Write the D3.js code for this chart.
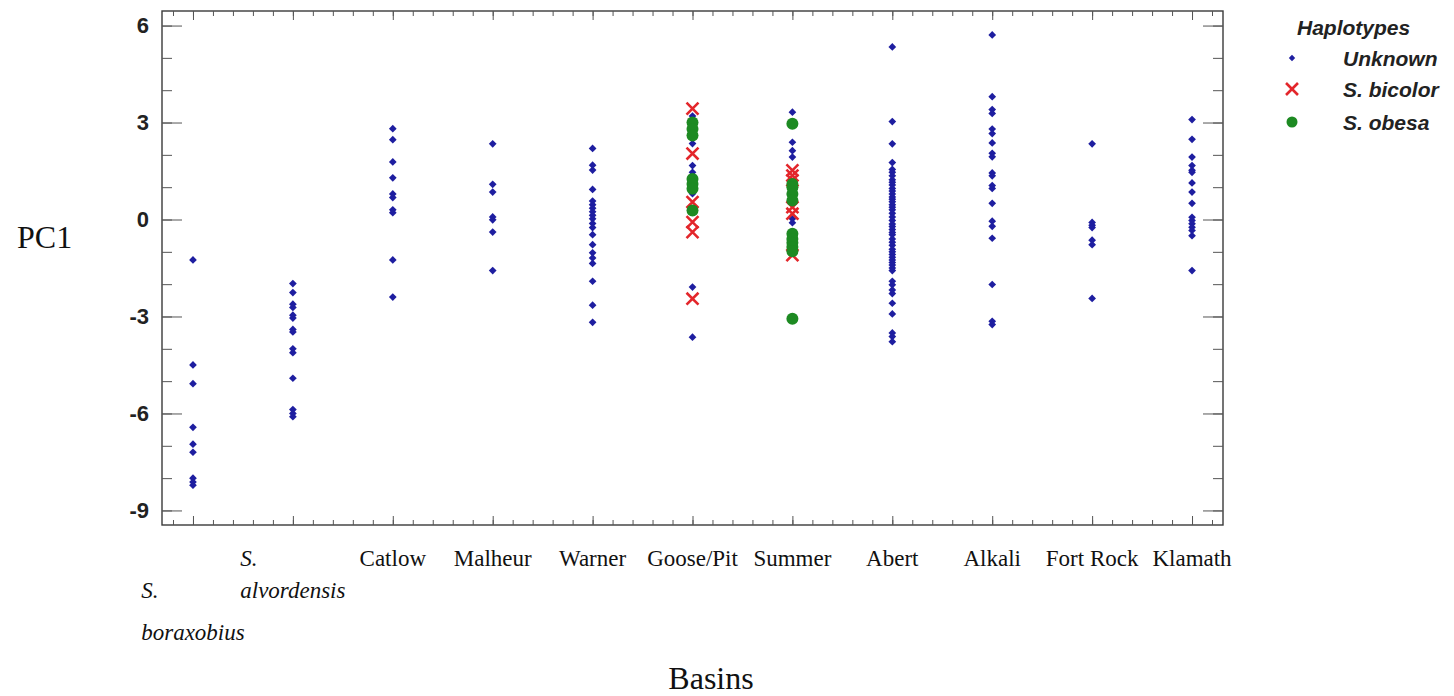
<html>
<head>
<meta charset="utf-8">
<script src="https://d3js.org/d3.v7.min.js"></script>
<style>
body {margin: 0; background: white;}
.ylab text {font-family: "Liberation Sans", Arial, sans-serif; font-weight: bold; font-size: 22px; fill: #222;}
.tick line {stroke: #555;}
</style>
</head>
<body>
<svg width="1454" height="696"></svg>
<script>

// basins along the x axis
var basins = ["S. boraxobius", "S. alvordensis", "Catlow", "Malheur", "Warner", "Goose/Pit",
              "Summer", "Abert", "Alkali", "Fort Rock", "Klamath"];

// PC1 values, haplotype unknown (one list per basin, same order as basins)
var unknownPC1 = [
  [-1.25, -4.5, -5.08, -6.43, -6.95, -7.2, -8.0, -8.12, -8.22],
  [-1.98, -2.26, -2.62, -2.72, -2.96, -3.05, -3.4, -3.48, -4.0, -4.12, -4.91, -5.88, -6.0, -6.1],
  [2.81, 2.47, 1.78, 1.29, 0.79, 0.68, 0.3, 0.21, -1.25, -2.4],
  [2.34, 1.09, 0.85, 0.08, -0.01, -0.39, -1.58],
  [2.2, 1.68, 1.53, 0.93, 0.57, 0.46, 0.35, 0.24, 0.13, 0.02, -0.12, -0.25, -0.47, -0.78, -1.03, -1.19, -1.36, -1.91, -2.65, -3.18],
  [3.2, 2.35, 1.67, 1.46, 0.8, -2.09, -3.64],
  [3.32, 2.39, 2.13, 1.93, 0.02, -0.1],
  [5.34, 3.03, 2.34, 1.76, 1.55, 1.46, 1.35, 1.23, 1.15, 1.07, 0.96, 0.88, 0.79, 0.7, 0.63, 0.55, 0.46, 0.38, 0.3, 0.19,
   0.08, -0.03, -0.14, -0.22, -0.31, -0.4, -0.47, -0.6, -0.7, -0.8, -0.92, -1.0, -1.08, -1.17, -1.25, -1.33, -1.41, -1.5,
   -1.58, -1.91, -2.02, -2.18, -2.29, -2.59, -2.92, -3.51, -3.62, -3.78],
  [5.71, 3.8, 3.4, 3.28, 2.8, 2.66, 2.37, 2.05, 1.94, 1.44, 1.35, 1.05, 0.96, 0.5, -0.05, -0.21, -0.58, -2.01, -3.15, -3.25],
  [2.34, -0.09, -0.18, -0.25, -0.64, -0.78, -2.44],
  [3.09, 2.48, 1.93, 1.67, 1.52, 1.46, 1.13, 0.85, 0.5, 0.07, -0.03, -0.13, -0.24, -0.34, -0.5, -1.58]
];

// PC1 values, S. bicolor haplotype
var bicolorGoosePit = [3.43, 2.04, 0.54, -0.08, -0.39, -2.45];
var bicolorSummer = [1.52, 1.36, 1.21, 0.38, 0.18, -1.1];

// PC1 values, S. obesa haplotype
var obesaGoosePit = [3.0, 2.8, 2.6, 1.25, 1.1, 0.95, 0.28];
var obesaSummer = [2.96, 1.1, 1.0, 0.79, 0.59, -0.44, -0.6, -0.72, -0.85, -0.98, -3.07];

var yTicks = [6, 3, 0, -3, -6, -9];
var yMinor = [6, 5, 4, 3, 2, 1, 0, -1, -2, -3, -4, -5, -6, -7, -8, -9];
var legendTitle = "Haplotypes";
var legendLabels = ["Unknown", "S. bicolor", "S. obesa"];

var plotLeft = 162, plotRight = 1223, plotTop = 11, plotBottom = 525;
var blue = "#1e1ea0", red = "#e3262b", green = "#1d8a22";

var svg = d3.select("svg");

var x = d3.scalePoint().domain(basins).range([plotLeft, plotRight]).padding(0.31);
var y = d3.scaleLinear().domain([-9.45, 6.45]).range([plotBottom, plotTop]);
// index scale for the small ticks between basins
var xi = d3.scaleLinear().domain([0, basins.length - 1]).range([x(basins[0]), x(basins[basins.length - 1])]);
var minorX = d3.range(-7, 5 * (basins.length - 1) + 8).map(function(k) {return k / 5;})
  .filter(function(v) {return xi(v) > plotLeft + 2 && xi(v) < plotRight - 2;});

//frame
svg.append("rect").attr("x", plotLeft).attr("y", plotTop).attr("width", plotRight - plotLeft).attr("height", plotBottom - plotTop)
  .style("fill", "none").style("stroke", "#3a3a3a").style("stroke-width", 1.4);

//left axis
svg.append("g").attr("class", "ylab").attr("transform", "translate(" + plotLeft + ",0)")
  .call(d3.axisLeft(y).tickValues(yTicks).tickSize(-20).tickPadding(13).tickFormat(function(d) {return String(d);}))
  .call(function(g) {g.select(".domain").remove();});
svg.append("g").attr("transform", "translate(" + plotLeft + ",0)")
  .call(d3.axisLeft(y).tickValues(yMinor).tickSize(-10).tickFormat(""))
  .call(function(g) {g.select(".domain").remove();});

//right axis
svg.append("g").attr("transform", "translate(" + plotRight + ",0)")
  .call(d3.axisRight(y).tickValues(yTicks).tickSize(-20).tickFormat(""))
  .call(function(g) {g.select(".domain").remove();});
svg.append("g").attr("transform", "translate(" + plotRight + ",0)")
  .call(d3.axisRight(y).tickValues(yMinor).tickSize(-10).tickFormat(""))
  .call(function(g) {g.select(".domain").remove();});

//bottom and top ticks
[[d3.axisBottom, plotBottom], [d3.axisTop, plotTop]].forEach(function(a) {
  svg.append("g").attr("transform", "translate(0," + a[1] + ")")
    .call(a[0](x).tickSize(-9).tickFormat(""))
    .call(function(g) {g.select(".domain").remove();});
  svg.append("g").attr("transform", "translate(0," + a[1] + ")")
    .call(a[0](xi).tickValues(minorX).tickSize(-5).tickFormat(""))
    .call(function(g) {g.select(".domain").remove();});
});

//basin labels
var rowY = [566, 598, 640];
basins.forEach(function(b, i) {
  var cx = x(b);
  if (b.indexOf("S. ") === 0) {
    var parts = ["S.", b.slice(3)];
    var rows = i === 0 ? [rowY[1], rowY[2]] : [rowY[0], rowY[1]];
    var t = svg.append("g");
    parts.forEach(function(p, j) {
      t.append("text").attr("x", 0).attr("y", rows[j]).text(p)
        .style("font-family", "'Liberation Serif', 'Times New Roman', serif")
        .style("font-style", "italic").style("font-size", "23px").style("fill", "#111");
    });
    var w = t.node().getBBox().width;
    t.attr("transform", "translate(" + (cx - w / 2) + ",0)");
  } else {
    svg.append("text").attr("x", cx).attr("y", rowY[0]).attr("text-anchor", "middle").text(b)
      .style("font-family", "'Liberation Serif', 'Times New Roman', serif")
      .style("font-size", "23px").style("fill", "#111");
  }
});

//axis titles
svg.append("text").attr("x", 711).attr("y", 689).attr("text-anchor", "middle").text("Basins")
  .style("font-family", "'Liberation Serif', 'Times New Roman', serif").style("font-size", "32px").style("fill", "#111");
svg.append("text").attr("x", 17).attr("y", 248).text("PC1")
  .style("font-family", "'Liberation Serif', 'Times New Roman', serif").style("font-size", "32px").style("fill", "#111");

//points
var diamond = d3.symbol().type(d3.symbolDiamond2).size(38);
var cross = d3.symbol().type(d3.symbolX).size(95);

var unknownPts = [];
basins.forEach(function(b, i) {
  unknownPC1[i].forEach(function(v) {unknownPts.push({basin: b, v: v});});
});
var bicolorPts = bicolorGoosePit.map(function(v) {return {basin: "Goose/Pit", v: v};})
  .concat(bicolorSummer.map(function(v) {return {basin: "Summer", v: v};}));
var obesaPts = obesaGoosePit.map(function(v) {return {basin: "Goose/Pit", v: v};})
  .concat(obesaSummer.map(function(v) {return {basin: "Summer", v: v};}));

svg.append("g").selectAll("path").data(unknownPts).enter().append("path")
  .attr("d", diamond)
  .attr("transform", function(d) {return "translate(" + x(d.basin) + "," + y(d.v) + ")";})
  .style("fill", blue);

svg.append("g").selectAll("path").data(bicolorPts).enter().append("path")
  .attr("d", cross)
  .attr("transform", function(d) {return "translate(" + x(d.basin) + "," + y(d.v) + ")";})
  .style("fill", "none").style("stroke", red).style("stroke-width", 2.6);

svg.append("g").selectAll("circle").data(obesaPts).enter().append("circle")
  .attr("cx", function(d) {return x(d.basin);})
  .attr("cy", function(d) {return y(d.v);})
  .attr("r", 6)
  .style("fill", green);

//legend
var lg = svg.append("g").style("font-family", "'Liberation Sans', Arial, sans-serif")
  .style("font-weight", "bold").style("font-style", "italic").style("font-size", "21px").style("fill", "#222");
lg.append("text").attr("x", 1297).attr("y", 35).text(legendTitle);
var legendY = [58, 89, 122];
legendLabels.forEach(function(l, i) {
  lg.append("text").attr("x", 1343).attr("y", legendY[i] + 8).text(l);
});
lg.append("path").attr("d", d3.symbol().type(d3.symbolDiamond2).size(26))
  .attr("transform", "translate(1292," + legendY[0] + ")").style("fill", blue);
lg.append("path").attr("d", cross)
  .attr("transform", "translate(1292," + legendY[1] + ")").style("fill", "none").style("stroke", red).style("stroke-width", 2.6);
lg.append("circle").attr("cx", 1292).attr("cy", legendY[2]).attr("r", 5.5).style("fill", green);

</script>
</body>
</html>
